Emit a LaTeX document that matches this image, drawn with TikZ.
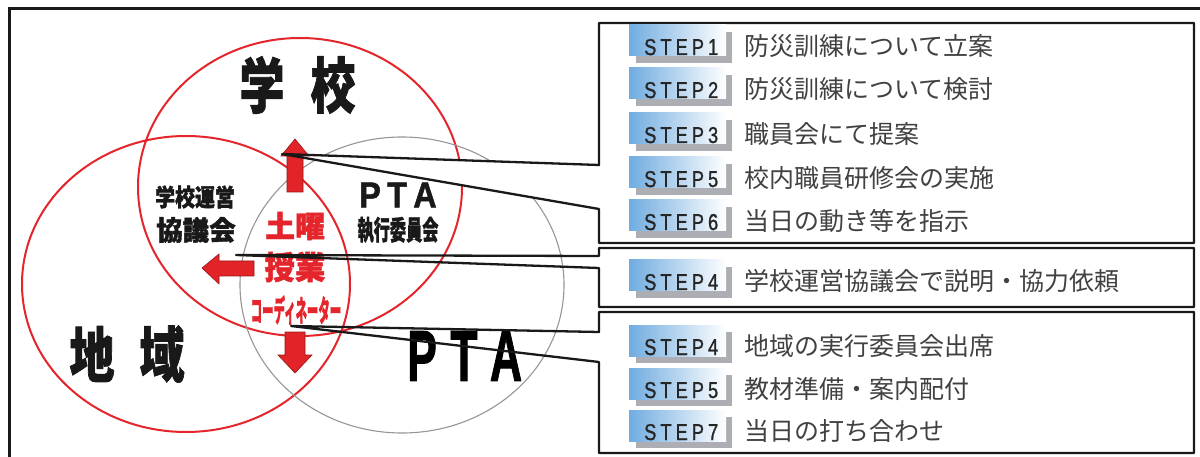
\documentclass[tikz,border=0pt]{standalone}
\usepackage{fontspec}
\setmainfont{Liberation Sans}
\newfontfamily\jp{Noto Sans CJK JP}
\newfontfamily\jpheavy{Noto Sans CJK JP}[BoldFeatures={FakeBold=1.5}]
\newfontfamily\heavysans{Liberation Sans}[BoldFeatures={FakeBold=1.5}]
\newfontfamily\stepsans{Liberation Sans}[FakeBold=1.2]
\newcommand\steplab[1]{\resizebox{74pt}{16pt}{S\hspace{2.2pt}T\hspace{2.2pt}E\hspace{2.2pt}P\hspace{2.2pt}#1}}
\definecolor{redc}{RGB}{228,38,44}
\definecolor{arrred}{RGB}{226,36,40}
\definecolor{arrline}{RGB}{150,20,20}
\definecolor{grayc}{RGB}{150,150,150}
\definecolor{lblue}{RGB}{112,172,224}
\definecolor{shadowgray}{RGB}{172,174,180}
\definecolor{itemc}{RGB}{65,65,65}
\tikzset{
  bigjp/.style={font=\jpheavy\bfseries\fontsize{60}{60}\selectfont, inner sep=0pt, text=black!90},
  bigpta/.style={font=\heavysans\bfseries\fontsize{72}{72}\selectfont, inner sep=0pt, text=black},
  midjp/.style={inner sep=0pt, text=black!90},
  redjp/.style={inner sep=0pt, text=redc},
  steptxt/.style={font=\stepsans\fontsize{10}{10}\selectfont, inner sep=0pt, text=black!85},
  itemtxt/.style={font=\jp\fontsize{25}{26}\selectfont, inner sep=0pt, text=itemc},
  callout/.style={line width=2.3pt, draw=black!90, line join=round},
  arrowshape/.style={fill=arrred, draw=arrline, line width=0.6pt, line join=miter}
}
\begin{document}
\begin{tikzpicture}[x=1pt,y=-1pt]
\useasboundingbox (0,0) rectangle (1200,457);
\fill[white] (0,0) rectangle (1200,457);
% outer frame
\coordinate (fr1) at (9,470);
\coordinate (fr2) at (9,9);
\coordinate (fr3) at (1210,9);
\draw[line width=3pt, black!90] (fr1) -- (fr2) -- (fr3);
% circles
\draw[redc, line width=2pt] (300,187) ellipse [x radius=162, y radius=149];
\draw[redc, line width=2pt] (186,284) ellipse [x radius=164, y radius=148];
\draw[grayc, line width=1.1pt] (402,285) ellipse [x radius=162, y radius=148];
% big labels
\node[bigjp] (gaku) at (262,85) {\scalebox{0.75}[1]{学}};
\node[bigjp] (kou) at (333,85) {\scalebox{0.75}[1]{校}};
\node[bigjp] (chi) at (92,354) {\scalebox{0.75}[1]{地}};
\node[bigjp] (iki) at (162,354) {\scalebox{0.75}[1]{域}};
% callout coordinates
\coordinate (b1a) at (599,23);  \coordinate (b1b) at (1194,23);
\coordinate (b1c) at (1194,243); \coordinate (b1d) at (599,243);
\coordinate (b1e) at (599,209); \coordinate (tip1) at (282,154);
\coordinate (b1f) at (599,165);
\coordinate (b2a) at (599,248);  \coordinate (b2b) at (1194,248);
\coordinate (b2c) at (1194,307); \coordinate (b2d) at (599,307);
\coordinate (b2e) at (599,268); \coordinate (tip2) at (236,255);
\coordinate (b2f) at (599,256);
\coordinate (b3a) at (599,312);  \coordinate (b3b) at (1194,312);
\coordinate (b3c) at (1194,453); \coordinate (b3d) at (599,453);
\coordinate (b3e) at (599,362); \coordinate (tip3) at (291,326);
\coordinate (b3f) at (599,332);
% callout fills (box 1 wedge hides what is under it)
\fill[white] (b1f) -- (b1a) -- (b1b) -- (b1c) -- (b1d) -- (b1e) -- (tip1) -- cycle;
\fill[white] (b2a) -- (b2b) -- (b2c) -- (b2d) -- cycle;
\fill[white] (b3a) -- (b3b) -- (b3c) -- (b3d) -- cycle;
% big PTA
\node[bigpta] (bigP) at (422,356) {\scalebox{0.62}[1]{P}};
\node[bigpta] (bigT) at (464,356) {\scalebox{0.62}[1]{T}};
\node[bigpta] (bigA) at (506,356) {\scalebox{0.62}[1]{A}};
% arrows
\draw[arrowshape] (295,139) -- (309,156) -- (303,156) -- (303,192) -- (287,192) -- (287,156) -- (281,156) -- cycle;
\draw[arrowshape] (202,268) -- (219,254) -- (219,261) -- (254,261) -- (254,276) -- (219,276) -- (219,284) -- cycle;
\draw[arrowshape] (295,373) -- (312,355) -- (305,355) -- (305,332) -- (285,332) -- (285,355) -- (278,355) -- cycle;
% inner labels
\node[midjp, font=\jpheavy\bfseries\fontsize{24}{24}\selectfont] (unei) at (195,197) {\scalebox{0.83}[1]{学校運営}};
\node[midjp, font=\jpheavy\bfseries\fontsize{27}{27}\selectfont] (kyogi) at (196,230) {\scalebox{0.98}[1]{協議会}};
\node[midjp, font=\heavysans\bfseries\fontsize{36}{36}\selectfont] (spta) at (398,195) {\scalebox{0.9}[1]{P\hspace{7pt}T\hspace{7pt}A}};
\node[midjp, font=\jpheavy\bfseries\fontsize{27}{27}\selectfont] (shikko) at (398,230) {\scalebox{0.6}[1]{執行委員会}};
\node[redjp, font=\jpheavy\bfseries\fontsize{30}{30}\selectfont] (doyo) at (295,226) {土曜};
\node[redjp, font=\jpheavy\bfseries\fontsize{32}{32}\selectfont] (jugyo) at (295,267) {\scalebox{0.95}[1]{授業}};
\node[redjp, font=\jpheavy\bfseries\fontsize{30}{30}\selectfont] (coord) at (296,310) {\scalebox{0.38}[1]{コーディネーター}};
% callout outlines
\draw[callout] (b1f) -- (b1a) -- (b1b) -- (b1c) -- (b1d) -- (b1e) -- (tip1) -- cycle;
\draw[callout] (b2f) -- (b2a) -- (b2b) -- (b2c) -- (b2d) -- (b2e) -- (tip2) -- cycle;
\draw[callout] (b3f) -- (b3a) -- (b3b) -- (b3c) -- (b3d) -- (b3e) -- (tip3) -- cycle;
% step rows
\foreach \ty/\s/\txt/\n in {25/1/防災訓練について立案/a, 68/2/防災訓練について検討/b, 113/3/職員会にて提案/c, 157/5/校内職員研修会の実施/d, 200/6/当日の動き等を指示/e, 260/4/学校運営協議会で説明・協力依頼/f, 325/4/地域の実行委員会出席/g, 368/5/教材準備・案内配付/h, 410/7/当日の打ち合わせ/i}{
  \fill[shadowgray] (636,\ty+7) rectangle (732,\ty+38);
  \shade[left color=lblue, right color=white] (629,\ty) rectangle (726,\ty+31);
  \node[steptxt, anchor=base west] (lab\n) at (644,\ty+30) {\steplab{\s}};
  \node[itemtxt, anchor=west] (item\n) at (744,\ty+21) {\txt};
}
\end{tikzpicture}
\end{document}
